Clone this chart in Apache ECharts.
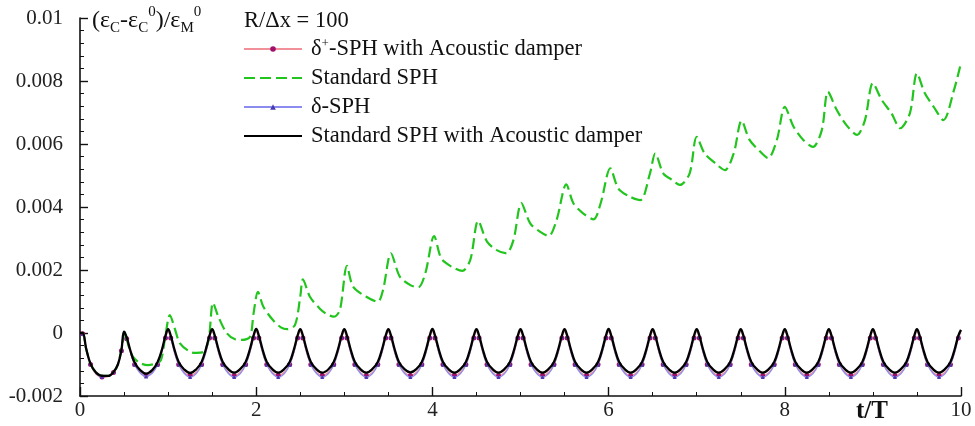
<!DOCTYPE html>
<html><head><meta charset="utf-8">
<script src="https://cdn.jsdelivr.net/npm/echarts@6/dist/echarts.min.js"></script>
<style>html,body{margin:0;padding:0;background:#fff}#c{width:975px;height:426px}</style>
</head><body><div id="c"></div>
<script>
// ---------- data ----------
const xTicks = [0, 2, 4, 6, 8, 10];
const yTicks = [-0.002, 0, 0.002, 0.004, 0.006, 0.008, 0.01];

// time samples of the oscillating curves (one row per half period)
const tOscRows = [
  [0, 0.03, 0.07, 0.12, 0.18, 0.25, 0.32, 0.38, 0.43, 0.47],
  [0.5, 0.53, 0.57, 0.62, 0.68, 0.75, 0.82, 0.88, 0.93, 0.97],
  [1, 1.03, 1.07, 1.12, 1.18, 1.25, 1.32, 1.38, 1.43, 1.47],
  [1.5, 1.53, 1.57, 1.62, 1.68, 1.75, 1.82, 1.88, 1.93, 1.97],
  [2, 2.03, 2.07, 2.12, 2.18, 2.25, 2.32, 2.38, 2.43, 2.47],
  [2.5, 2.53, 2.57, 2.62, 2.68, 2.75, 2.82, 2.88, 2.93, 2.97],
  [3, 3.03, 3.07, 3.12, 3.18, 3.25, 3.32, 3.38, 3.43, 3.47],
  [3.5, 3.53, 3.57, 3.62, 3.68, 3.75, 3.82, 3.88, 3.93, 3.97],
  [4, 4.03, 4.07, 4.12, 4.18, 4.25, 4.32, 4.38, 4.43, 4.47],
  [4.5, 4.53, 4.57, 4.62, 4.68, 4.75, 4.82, 4.88, 4.93, 4.97],
  [5, 5.03, 5.07, 5.12, 5.18, 5.25, 5.32, 5.38, 5.43, 5.47],
  [5.5, 5.53, 5.57, 5.62, 5.68, 5.75, 5.82, 5.88, 5.93, 5.97],
  [6, 6.03, 6.07, 6.12, 6.18, 6.25, 6.32, 6.38, 6.43, 6.47],
  [6.5, 6.53, 6.57, 6.62, 6.68, 6.75, 6.82, 6.88, 6.93, 6.97],
  [7, 7.03, 7.07, 7.12, 7.18, 7.25, 7.32, 7.38, 7.43, 7.47],
  [7.5, 7.53, 7.57, 7.62, 7.68, 7.75, 7.82, 7.88, 7.93, 7.97],
  [8, 8.03, 8.07, 8.12, 8.18, 8.25, 8.32, 8.38, 8.43, 8.47],
  [8.5, 8.53, 8.57, 8.62, 8.68, 8.75, 8.82, 8.88, 8.93, 8.97],
  [9, 9.03, 9.07, 9.12, 9.18, 9.25, 9.32, 9.38, 9.43, 9.47],
  [9.5, 9.53, 9.57, 9.62, 9.68, 9.75, 9.82, 9.88, 9.93, 9.97],
  [10]
];

// Standard SPH with Acoustic damper (black)
const blackRows = [
  [0, 0, -0.0005, -0.00098, -0.00125, -0.00136, -0.00136, -0.00124, -0.001, -0.00054],
  [0.00004, -0.00014, -0.00054, -0.00094, -0.00117, -0.00129, -0.00118, -0.00093, -0.00053, -0.00009],
  [0.00012, -0.00008, -0.0005, -0.00092, -0.00115, -0.00127, -0.00115, -0.00092, -0.0005, -0.00008],
  [0.00012, -0.00008, -0.0005, -0.00092, -0.00114, -0.00126, -0.00114, -0.00092, -0.0005, -0.00008],
  [0.00013, -0.00008, -0.0005, -0.00092, -0.00114, -0.00126, -0.00114, -0.00092, -0.0005, -0.00008],
  [0.00012, -0.00008, -0.0005, -0.00092, -0.00114, -0.00126, -0.00115, -0.00092, -0.0005, -0.00008],
  [0.00012, -0.00008, -0.0005, -0.00092, -0.00114, -0.00126, -0.00114, -0.00092, -0.0005, -0.00008],
  [0.00012, -0.00008, -0.0005, -0.00092, -0.00114, -0.00125, -0.00114, -0.00092, -0.0005, -0.00008],
  [0.00013, -0.00008, -0.0005, -0.00092, -0.00114, -0.00126, -0.00114, -0.00092, -0.0005, -0.00008],
  [0.00012, -0.00008, -0.0005, -0.00092, -0.00114, -0.00126, -0.00114, -0.00092, -0.0005, -0.00008],
  [0.00012, -0.00008, -0.0005, -0.00092, -0.00114, -0.00126, -0.00114, -0.00092, -0.0005, -0.00008],
  [0.00012, -0.00008, -0.0005, -0.00092, -0.00114, -0.00126, -0.00114, -0.00092, -0.0005, -0.00008],
  [0.00013, -0.00008, -0.0005, -0.00092, -0.00114, -0.00126, -0.00114, -0.00092, -0.0005, -0.00008],
  [0.00012, -0.00008, -0.0005, -0.00092, -0.00114, -0.00126, -0.00114, -0.00092, -0.0005, -0.00008],
  [0.00012, -0.00008, -0.0005, -0.00092, -0.00114, -0.00126, -0.00114, -0.00092, -0.0005, -0.00008],
  [0.00012, -0.00008, -0.0005, -0.00092, -0.00114, -0.00126, -0.00114, -0.00092, -0.0005, -0.00008],
  [0.00012, -0.00008, -0.0005, -0.00092, -0.00114, -0.00126, -0.00114, -0.00092, -0.0005, -0.00008],
  [0.00012, -0.00008, -0.0005, -0.00092, -0.00114, -0.00126, -0.00114, -0.00092, -0.0005, -0.00008],
  [0.00012, -0.00008, -0.0005, -0.00092, -0.00114, -0.00126, -0.00114, -0.00092, -0.0005, -0.00008],
  [0.00012, -0.00008, -0.0005, -0.00092, -0.00114, -0.00126, -0.00114, -0.00092, -0.0005, -0.00008],
  [0.0001]
];

// delta+-SPH with Acoustic damper (red)
const redRows = [
  [0, -0.00002, -0.00048, -0.001, -0.0013, -0.0014, -0.00138, -0.00125, -0.001, -0.00056],
  [0.00002, -0.00018, -0.0006, -0.001, -0.00124, -0.00135, -0.00125, -0.001, -0.0006, -0.00016],
  [0.00004, -0.00016, -0.0006, -0.001, -0.00124, -0.00135, -0.00125, -0.001, -0.0006, -0.00016],
  [0.00004, -0.00016, -0.0006, -0.001, -0.00124, -0.00136, -0.00125, -0.001, -0.0006, -0.00016],
  [0.00004, -0.00016, -0.0006, -0.001, -0.00124, -0.00135, -0.00125, -0.001, -0.0006, -0.00016],
  [0.00004, -0.00016, -0.0006, -0.001, -0.00124, -0.00135, -0.00125, -0.001, -0.0006, -0.00016],
  [0.00004, -0.00016, -0.0006, -0.001, -0.00124, -0.00136, -0.00125, -0.001, -0.0006, -0.00016],
  [0.00004, -0.00016, -0.0006, -0.001, -0.00124, -0.00135, -0.00125, -0.001, -0.0006, -0.00016],
  [0.00004, -0.00016, -0.0006, -0.001, -0.00124, -0.00135, -0.00125, -0.001, -0.0006, -0.00016],
  [0.00004, -0.00016, -0.0006, -0.001, -0.00124, -0.00136, -0.00125, -0.001, -0.0006, -0.00016],
  [0.00004, -0.00016, -0.0006, -0.001, -0.00124, -0.00135, -0.00125, -0.001, -0.0006, -0.00016],
  [0.00004, -0.00016, -0.0006, -0.001, -0.00124, -0.00135, -0.00125, -0.001, -0.0006, -0.00016],
  [0.00004, -0.00016, -0.0006, -0.001, -0.00124, -0.00136, -0.00125, -0.001, -0.0006, -0.00016],
  [0.00004, -0.00016, -0.0006, -0.001, -0.00124, -0.00135, -0.00125, -0.001, -0.0006, -0.00016],
  [0.00004, -0.00016, -0.0006, -0.001, -0.00124, -0.00135, -0.00125, -0.001, -0.0006, -0.00016],
  [0.00004, -0.00016, -0.0006, -0.001, -0.00124, -0.00136, -0.00125, -0.001, -0.0006, -0.00016],
  [0.00004, -0.00016, -0.0006, -0.001, -0.00124, -0.00135, -0.00125, -0.001, -0.0006, -0.00016],
  [0.00004, -0.00016, -0.0006, -0.001, -0.00124, -0.00135, -0.00125, -0.001, -0.0006, -0.00016],
  [0.00004, -0.00016, -0.0006, -0.001, -0.00124, -0.00136, -0.00125, -0.001, -0.0006, -0.00016],
  [0.00004, -0.00016, -0.0006, -0.001, -0.00124, -0.00135, -0.00125, -0.001, -0.0006, -0.00016],
  [0.00002]
];

// delta-SPH (blue)
const blueRows = [
  [0, -0.00002, -0.00046, -0.00098, -0.00128, -0.00139, -0.00137, -0.00124, -0.00099, -0.00055],
  [0.00006, -0.00014, -0.00057, -0.001, -0.00126, -0.00138, -0.00128, -0.00101, -0.00058, -0.00012],
  [0.0001, -0.00012, -0.00058, -0.001, -0.00127, -0.0014, -0.00129, -0.00101, -0.00058, -0.00012],
  [0.0001, -0.00012, -0.00058, -0.001, -0.00127, -0.0014, -0.00129, -0.00101, -0.00058, -0.00012],
  [0.0001, -0.00012, -0.00058, -0.001, -0.00127, -0.0014, -0.00129, -0.00101, -0.00058, -0.00012],
  [0.0001, -0.00012, -0.00058, -0.001, -0.00127, -0.0014, -0.00129, -0.00101, -0.00058, -0.00012],
  [0.0001, -0.00012, -0.00058, -0.001, -0.00127, -0.0014, -0.00129, -0.00101, -0.00058, -0.00012],
  [0.0001, -0.00012, -0.00058, -0.001, -0.00127, -0.0014, -0.00129, -0.00101, -0.00058, -0.00012],
  [0.0001, -0.00012, -0.00058, -0.001, -0.00127, -0.0014, -0.00129, -0.00101, -0.00058, -0.00012],
  [0.0001, -0.00012, -0.00058, -0.001, -0.00127, -0.0014, -0.00129, -0.00101, -0.00058, -0.00012],
  [0.0001, -0.00012, -0.00058, -0.001, -0.00127, -0.0014, -0.00129, -0.00101, -0.00058, -0.00012],
  [0.0001, -0.00012, -0.00058, -0.001, -0.00127, -0.0014, -0.00129, -0.00101, -0.00058, -0.00012],
  [0.0001, -0.00012, -0.00058, -0.001, -0.00127, -0.0014, -0.00129, -0.00101, -0.00058, -0.00012],
  [0.0001, -0.00012, -0.00058, -0.001, -0.00127, -0.0014, -0.00129, -0.00101, -0.00058, -0.00012],
  [0.0001, -0.00012, -0.00058, -0.001, -0.00127, -0.0014, -0.00129, -0.00101, -0.00058, -0.00012],
  [0.0001, -0.00012, -0.00058, -0.001, -0.00127, -0.0014, -0.00129, -0.00101, -0.00058, -0.00012],
  [0.0001, -0.00012, -0.00058, -0.001, -0.00127, -0.0014, -0.00129, -0.00101, -0.00058, -0.00012],
  [0.0001, -0.00012, -0.00058, -0.001, -0.00127, -0.0014, -0.00129, -0.00101, -0.00058, -0.00012],
  [0.0001, -0.00012, -0.00058, -0.001, -0.00127, -0.0014, -0.00129, -0.00101, -0.00058, -0.00012],
  [0.0001, -0.00012, -0.00058, -0.001, -0.00127, -0.0014, -0.00129, -0.00101, -0.00058, -0.00012],
  [0.00008]
];

// Standard SPH (green dashed): time and value
const greenT = [0, 0.03, 0.07, 0.12, 0.18, 0.25, 0.32, 0.38, 0.43, 0.47, 0.51,
  0.55, 0.6, 0.68, 0.77, 0.86, 0.92, 0.965, 1.02,
  1.08, 1.135, 1.25, 1.32, 1.40, 1.46, 1.51,
  1.57, 1.665, 1.76, 1.84, 1.93, 1.97, 2.02,
  2.08, 2.19, 2.28, 2.35, 2.44, 2.50, 2.53,
  2.61, 2.72, 2.80, 2.88, 2.95, 3.03,
  3.10, 3.25, 3.38, 3.44, 3.53,
  3.63, 3.75, 3.84, 3.92, 4.02,
  4.10, 4.22, 4.34, 4.43, 4.52,
  4.62, 4.73, 4.84, 4.92, 5.01,
  5.11, 5.22, 5.32, 5.41, 5.52,
  5.60, 5.71, 5.83, 5.91, 6.02,
  6.11, 6.24, 6.36, 6.47, 6.53,
  6.62, 6.72, 6.81, 6.92, 7.00,
  7.09, 7.21, 7.32, 7.42, 7.51,
  7.60, 7.72, 7.81, 7.91, 8.00,
  8.10, 8.21, 8.32, 8.42, 8.49,
  8.59, 8.70, 8.82, 8.91, 9.00,
  9.10, 9.21, 9.31, 9.42, 9.50,
  9.59, 9.69, 9.80, 9.92, 9.99];
const greenV = [0, 0, -0.0005, -0.00098, -0.00125, -0.00136, -0.00136, -0.00124, -0.001, -0.00054, 0.00002,
  -0.0004, -0.00075, -0.00095, -0.00102, -0.00097, -0.00085, -0.00017, 0.00057,
  0.0001, -0.00033, -0.0006, -0.00063, -0.0006, -0.00022, 0.00096,
  0.00052, 0.0, -0.0002, -0.00022, -0.00012, 0.00062, 0.00131,
  0.00084, 0.00041, 0.00018, 0.00012, 0.00025, 0.00115, 0.0017,
  0.00115, 0.00078, 0.0006, 0.00052, 0.00073, 0.00213,
  0.00147, 0.00115, 0.00099, 0.00137, 0.00253,
  0.00179, 0.00152, 0.00145, 0.0019, 0.00308,
  0.00237, 0.0021, 0.00197, 0.00232, 0.00356,
  0.0029, 0.00263, 0.00253, 0.00295, 0.00412,
  0.00348, 0.00322, 0.00308, 0.00359, 0.00472,
  0.00412, 0.0038, 0.00361, 0.00412, 0.00523,
  0.00459, 0.00433, 0.00422, 0.00507, 0.0057,
  0.00507, 0.00486, 0.0047, 0.00507, 0.00623,
  0.0057, 0.00539, 0.00517, 0.0057, 0.00674,
  0.00613, 0.00576, 0.00555, 0.00613, 0.00718,
  0.00655, 0.00613, 0.00591, 0.00644, 0.00766,
  0.00708, 0.0066, 0.00629, 0.00676, 0.00793,
  0.0074, 0.00698, 0.0065, 0.00698, 0.00824,
  0.00761, 0.00718, 0.00676, 0.00771, 0.00846];

const seriesNames = ['δ+-SPH with Acoustic damper', 'Standard SPH', 'δ-SPH', 'Standard SPH with Acoustic damper'];

// ---------- build chart ----------
const SERIF = "'Liberation Serif', 'Times New Roman', 'DejaVu Serif', serif";
const tOsc = [].concat(...tOscRows);
const pair = (rows) => { const v = [].concat(...rows); return tOsc.map((t, i) => [t, v[i]]); };
const greenData = greenT.map((t, i) => [t, greenV[i]]);

const chart = echarts.init(document.getElementById('c'), null, {renderer: 'canvas'});
chart.setOption({
  animation: false,
  backgroundColor: '#fff',
  title: {
    text: 'R/Δx = 100', left: 239, top: 5,
    textStyle: {fontFamily: SERIF, fontSize: 22.5, fontWeight: 'normal', color: '#111'}
  },
  legend: {
    orient: 'vertical', left: 238, top: 32,
    itemWidth: 58, itemHeight: 7, itemGap: 5,
    textStyle: {
      fontFamily: SERIF, fontSize: 22.5, color: '#111', lineHeight: 24, padding: [0, 0, 0, 4],
      rich: {sup: {fontFamily: SERIF, fontSize: 13, verticalAlign: 'top', lineHeight: 24, padding: [0, 0, 8, 0]}}
    },
    formatter: (n) => n === seriesNames[0] ? 'δ{sup|+}-SPH with Acoustic damper' : n,
    data: [
      {name: seriesNames[0]},
      {name: seriesNames[1], itemStyle: {opacity: 0}},
      {name: seriesNames[2]},
      {name: seriesNames[3], itemStyle: {opacity: 0}}
    ]
  },
  grid: {left: 80, right: 14, top: 18, bottom: 30},
  xAxis: {
    type: 'value', min: xTicks[0], max: xTicks[xTicks.length - 1], interval: 2,
    axisLine: {onZero: false, lineStyle: {color: '#111', width: 1.6}},
    axisTick: {inside: true, length: 9, lineStyle: {color: '#111', width: 1.4}},
    minorTick: {show: true, splitNumber: 4, length: 4, lineStyle: {color: '#111', width: 1}},
    axisLabel: {fontFamily: SERIF, fontSize: 21, color: '#222', margin: 4},
    splitLine: {show: false}
  },
  yAxis: {
    type: 'value', min: yTicks[0], max: yTicks[yTicks.length - 1], interval: 0.002,
    offset: 7,
    axisLine: {show: true, lineStyle: {color: '#111', width: 1.6}},
    axisTick: {show: true, inside: true, length: 8, lineStyle: {color: '#111', width: 1.4}},
    minorTick: {show: true, splitNumber: 5, length: 4, lineStyle: {color: '#111', width: 1}},
    axisLabel: {fontFamily: SERIF, fontSize: 21, color: '#222', margin: 10},
    splitLine: {show: false}
  },
  graphic: [
    {
      type: 'text', left: 92, top: 5,
      style: {
        text: '(ε{sub|C}-ε{sub|C}{sup|0})/ε{sub|M}{sup|0}',
        fontFamily: SERIF, fontSize: 24, fill: '#111', lineHeight: 31,
        rich: {
          sub: {fontFamily: SERIF, fontSize: 15, fill: '#111', verticalAlign: 'bottom', lineHeight: 15},
          sup: {fontFamily: SERIF, fontSize: 15, fill: '#111', verticalAlign: 'top', lineHeight: 15}
        }
      }
    },
    {
      type: 'text', left: 856, top: 399,
      style: {text: 't/T', fontFamily: SERIF, fontSize: 25, fontWeight: 'bold', fill: '#111'}
    }
  ],
  series: [
    {
      name: seriesNames[0], type: 'line', data: pair(redRows), smooth: 0.4,
      symbol: 'circle',
      symbolSize: (v, p) => (p.dataIndex % 2 === 1 ? 5 : 0),
      lineStyle: {color: '#f2909a', width: 1.4},
      itemStyle: {color: '#a0106a'}, z: 2
    },
    {
      name: seriesNames[1], type: 'line', data: greenData, smooth: 0.3,
      symbol: 'none',
      lineStyle: {color: '#22c41e', width: 2.2, type: [11, 5]},
      itemStyle: {color: '#22c41e'}, z: 3
    },
    {
      name: seriesNames[2], type: 'line', data: pair(blueRows), smooth: 0.4,
      symbol: 'triangle',
      symbolSize: (v, p) => (p.dataIndex % 2 === 1 ? 4 : 0),
      lineStyle: {color: '#8c8cf0', width: 1.3},
      itemStyle: {color: '#4a3ab0'}, z: 4
    },
    {
      name: seriesNames[3], type: 'line', data: pair(blackRows), smooth: 0.4,
      symbol: 'none',
      lineStyle: {color: '#000', width: 2.3},
      itemStyle: {color: '#000'}, z: 5
    }
  ]
});
</script></body></html>
